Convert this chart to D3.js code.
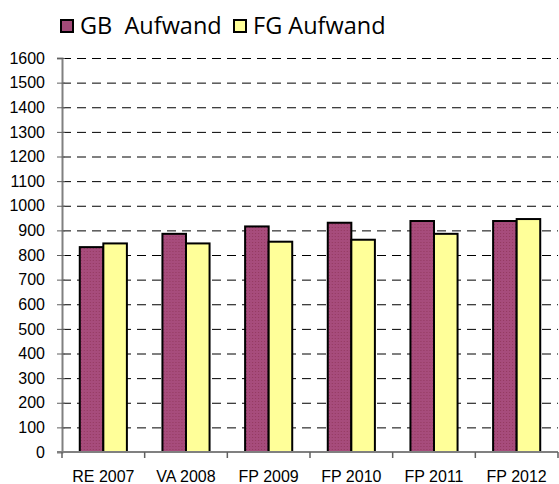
<!DOCTYPE html>
<html>
<head>
<meta charset="utf-8">
<script src="https://cdn.jsdelivr.net/npm/d3@7"></script>
<style>
  body { margin: 0; background: #fff; }
</style>
</head>
<body>
<svg id="chart" width="559" height="484"></svg>
<script>
var categories = ["RE 2007", "VA 2008", "FP 2009", "FP 2010", "FP 2011", "FP 2012"];
var gbAufwand = [832, 886, 916, 931, 938, 938];
var fgAufwand = [847, 847, 854, 862, 886, 946];
var seriesNames = ["GB  Aufwand", "FG Aufwand"];
var yTicks = [0, 100, 200, 300, 400, 500, 600, 700, 800, 900, 1000, 1100, 1200, 1300, 1400, 1500, 1600];

var margin = {top: 58, left: 62, right: 1, bottom: 32};
var width = 559 - margin.left - margin.right;
var height = 484 - margin.top - margin.bottom;

var data = categories.map(function(c, i) {
  return {cat: c, values: [gbAufwand[i], fgAufwand[i]]};
});

var svg = d3.select("#chart");

// pattern for the dotted purple fill
var defs = svg.append("defs");
var pat = defs.append("pattern")
    .attr("id", "dots")
    .attr("width", 3).attr("height", 3)
    .attr("patternUnits", "userSpaceOnUse");
pat.append("rect").attr("width", 3).attr("height", 3).attr("fill", "#a74c7c");
pat.append("rect").attr("x", 1).attr("y", 1).attr("width", 1).attr("height", 1).attr("fill", "#93395f");

var colors = ["url(#dots)", "#ffff99"];
var legendColors = ["#a34a78", "#ffff99"];

var g = svg.append("g").attr("transform", "translate(" + margin.left + "," + margin.top + ")");

var x = d3.scaleBand().domain(categories).range([0, width]).paddingInner(0.43).paddingOuter(0.215);
var x1 = d3.scaleBand().domain([0, 1]).range([0, x.bandwidth()]);
var y = d3.scaleLinear().domain([0, 1600]).range([height, 0]);

// dashed gridlines
g.append("g").selectAll("line")
  .data(yTicks.filter(function(t) { return t > 0; }))
  .enter().append("line")
    .attr("x1", 0).attr("x2", width)
    .attr("y1", function(d) { return y(d) + 0.5; })
    .attr("y2", function(d) { return y(d) + 0.5; })
    .attr("stroke", "#000")
    .attr("stroke-width", 1)
    .attr("stroke-dasharray", "9,6");

// bars
var groups = g.append("g").selectAll("g")
  .data(data)
  .enter().append("g")
    .attr("transform", function(d) { return "translate(" + x(d.cat) + ",0)"; });

groups.selectAll("rect")
  .data(function(d) { return d.values; })
  .enter().append("rect")
    .attr("x", function(d, i) { return x1(i); })
    .attr("y", function(d) { return y(d); })
    .attr("width", x1.bandwidth())
    .attr("height", function(d) { return height - y(d); })
    .attr("fill", function(d, i) { return colors[i]; })
    .attr("stroke", "#000")
    .attr("stroke-width", 2);

// y axis
var yAxis = g.append("g")
    .call(d3.axisLeft(y).tickValues(yTicks).tickSize(5).tickPadding(12).tickFormat(d3.format("d")));
yAxis.select(".domain").attr("stroke", "#808080").attr("stroke-width", 2);
yAxis.selectAll(".tick line").attr("stroke", "#606060").attr("x2", 3).attr("x1", -5);

// x axis
var xAxis = g.append("g")
    .attr("transform", "translate(0," + height + ")")
    .call(d3.axisBottom(x).tickSize(0).tickPadding(19));
xAxis.select(".domain").attr("stroke", "#808080").attr("stroke-width", 2)
    .attr("d", "M-5,0H" + width);
xAxis.selectAll(".tick text").attr("dy", "0.71em");
// category separator ticks
xAxis.append("g").selectAll("line")
  .data(d3.range(categories.length + 1))
  .enter().append("line")
    .attr("x1", function(i) { return i * x.step(); })
    .attr("x2", function(i) { return i * x.step(); })
    .attr("y1", 0).attr("y2", 6)
    .attr("stroke", "#606060")
    .attr("stroke-width", 1.5);

g.selectAll(".tick text")
    .attr("fill", "#000")
    .style("font-family", "'Liberation Sans', Arial, sans-serif")
    .style("font-size", "16px");

// legend
var legend = svg.append("g").attr("transform", "translate(60,19)");
var lx = [0, 173];
seriesNames.forEach(function(name, i) {
  var item = legend.append("g").attr("transform", "translate(" + lx[i] + ",0)");
  item.append("rect")
      .attr("x", 1).attr("y", 1).attr("width", 12).attr("height", 12)
      .attr("fill", legendColors[i])
      .attr("stroke", "#000").attr("stroke-width", 2);
  item.append("text")
      .attr("x", 20).attr("y", 15)
      .attr("font-family", "'Open Sans', 'Noto Sans', sans-serif")
      .attr("font-size", 23.5)
      .attr("xml:space", "preserve")
      .style("white-space", "pre")
      .text(name);
});
</script>
</body>
</html>
